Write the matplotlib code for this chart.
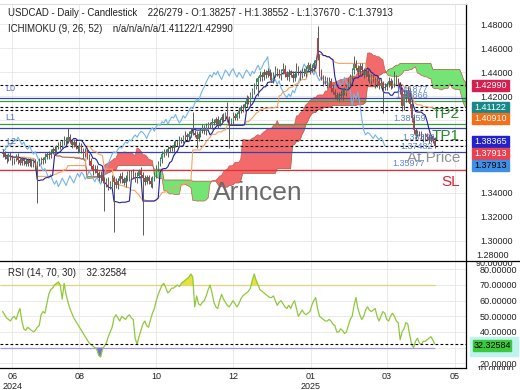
import numpy as np
import pandas as pd
import matplotlib
matplotlib.use("Agg")
import matplotlib.pyplot as plt
from matplotlib.lines import Line2D
from matplotlib.patches import Rectangle
from matplotlib.transforms import Bbox

plt.rcParams['font.family'] = ['Liberation Sans', 'DejaVu Sans']

# ---------------- data (prices in 0.001 units above 1.000) ----------------
closes_k = [
    372, 370, 368, 371, 369, 366, 368, 370, 367, 365, 368, 366, 364, 367, 365, 363, 366, 362,
    364, 366, 368, 367, 370, 372, 371, 374, 376, 375, 378, 380, 379, 382, 384, 383, 386,
    383, 380, 382, 378, 376, 379, 375, 372, 374, 370, 366, 362, 358, 360,
    356, 352, 355, 350, 347, 350, 345, 348, 352, 349, 346, 350, 354, 351, 348, 352, 356, 353,
    357, 355, 351, 354, 358, 355, 352, 349, 353, 350, 347, 352,
    355, 360, 364, 368, 372, 374, 373, 376, 378, 377, 380, 382, 381, 384, 383, 386, 388, 386,
    389, 391, 390,
    388, 385, 389, 392, 394, 391, 395, 397, 396, 399, 398, 401, 397, 400, 403, 402, 405, 401,
    398, 400, 404, 402,
    405, 408, 411, 410, 414, 418, 416, 421, 425, 428,
    432, 435, 438, 436, 440, 438, 441, 437, 434, 438, 442, 440, 437, 441, 443, 439, 436, 440,
    438, 435, 439, 442, 440, 437, 441,
    439, 443, 446, 442, 444, 448, 450, 453, 440, 436, 432, 434,
    430, 433, 427, 424, 421, 419, 422, 420, 425, 423, 428, 432, 436, 442, 447, 444, 440, 445,
    442, 438, 441, 436, 433, 437, 434, 430, 433, 429, 431, 427,
    428, 430, 433, 429, 431, 436, 432, 428, 425,
    412, 422, 418, 424, 414, 402, 392, 388, 390,
    389, 387, 385, 388, 386, 384, 386, 383, 379]
wick_up_k = [
    2, 3, 2, 2, 3, 2, 1, 2, 3, 2, 2, 1, 3, 2, 2, 3, 2, 2,
    2, 3, 2, 2, 3, 2, 3, 2, 2, 3, 2, 2, 3, 2, 3, 2, 8,
    3, 2, 3, 2, 2, 3, 2, 2, 3, 2, 2, 3, 2, 3,
    3, 2, 3, 2, 3, 2, 3, 2, 3, 2, 3, 2, 2, 3, 2, 3, 2, 3, 2, 3, 2, 3, 2, 3, 2, 3, 2, 2, 3, 2,
    2, 3, 2, 2, 3, 2, 2, 3, 2, 2, 3, 2, 2, 3, 2, 2, 3, 2, 2, 3, 16,
    2, 3, 2, 2, 3, 2, 3, 2, 2, 3, 2, 2, 3, 2, 2, 3, 2, 10, 3, 2, 3, 2,
    2, 3, 2, 3, 2, 3, 2, 3, 2, 3,
    3, 2, 3, 2, 3, 2, 3, 2, 3, 2, 3, 2, 3, 2, 5, 3, 2, 3, 2, 3, 2, 6, 3, 2, 3,
    3, 2, 3, 2, 3, 2, 3, 10, 2, 3, 2, 3,
    2, 3, 2, 3, 2, 3, 2, 3, 2, 3, 2, 3, 3, 2, 7, 3, 2, 3,
    3, 2, 3, 2, 3, 2, 3, 2, 3, 2, 3, 2,
    3, 2, 3, 2, 3, 5, 2, 3, 2,
    3, 4, 3, 5, 3, 3, 3, 2, 2,
    1, 2, 2, 2, 2, 3, 2, 2, 3]
wick_dn_k = [
    2, 2, 3, 2, 2, 3, 2, 2, 3, 2, 2, 3, 2, 2, 3, 2, 2, 3,
    31, 2, 2, 3, 2, 2, 3, 2, 2, 3, 2, 2, 3, 2, 2, 3, 2,
    2, 3, 2, 2, 3, 2, 2, 3, 2, 2, 3, 2, 3, 2,
    3, 2, 3, 2, 22, 2, 3, 2, 3, 42, 2, 3, 2, 3, 2, 3, 2, 3, 2, 3, 2, 3, 2, 3, 47, 3, 2, 3, 2, 3,
    2, 3, 2, 2, 3, 2, 2, 3, 2, 2, 3, 2, 2, 3, 2, 2, 3, 2, 2, 3, 2,
    2, 8, 2, 3, 2, 2, 3, 2, 2, 3, 2, 2, 3, 2, 2, 3, 2, 2, 21, 2, 3, 2,
    2, 3, 2, 3, 2, 3, 2, 3, 2, 3,
    2, 12, 2, 3, 2, 3, 2, 3, 2, 3, 2, 3, 2, 3, 2, 3, 2, 3, 2, 3, 2, 3, 2, 3, 2,
    2, 3, 2, 3, 2, 3, 2, 3, 3, 2, 3, 2,
    3, 2, 3, 2, 3, 2, 3, 2, 3, 2, 3, 2, 3, 2, 3, 2, 3, 2,
    2, 3, 2, 3, 2, 3, 2, 3, 2, 3, 2, 21,
    2, 3, 2, 3, 2, 3, 2, 3, 3,
    4, 3, 3, 3, 4, 3, 3, 3, 2,
    2, 2, 3, 2, 2, 3, 2, 2, 2]
first_open_k = 374
open_gaps_k = {164: 469}

rsi_values = [
    53, 51, 49, 48, 47, 49, 50, 48, 52, 55, 47, 42, 41, 43, 42, 41, 40, 41, 43, 44,
    51, 53, 52, 58, 64, 67, 68, 70, 71, 72, 70, 61, 71, 64, 59, 55, 52, 49, 47, 45,
    43, 41, 39, 37, 35, 33, 32, 31, 30, 29, 25, 24, 29, 31, 33, 37, 40, 43, 49, 51,
    49, 47, 50, 49, 48, 50, 51, 49, 48, 36, 32, 37, 41, 45, 47, 44, 43, 48, 52, 55,
    60, 64, 67, 70, 71, 68, 65, 66, 68, 68, 69, 70, 69, 71, 72, 73, 74, 75, 77, 75,
    56, 63, 58, 57, 59, 60, 63, 67, 70, 65, 59, 56, 55, 60, 64, 61, 59, 57, 56, 58,
    60, 58, 56, 58, 61, 63, 64, 65, 66, 68, 73, 77, 73, 70, 67, 66, 65, 64, 63, 62,
    62, 63, 60, 57, 59, 60, 58, 56, 55, 57, 55, 58, 60, 55, 50, 52, 54, 52, 51, 52,
    53, 57, 60, 62, 55, 50, 49, 48, 47, 47, 48, 47, 45, 44, 40, 40, 42, 41, 39, 40,
    44, 48, 50, 57, 62, 55, 51, 48, 50, 54, 56, 54, 53, 54, 55, 50, 47, 50, 53, 52,
    48, 47, 50, 52, 50, 47, 46, 35, 40, 42, 46, 45, 38, 32, 30, 34, 36, 33, 32, 34,
    34, 35, 36, 37, 35, 32.3]
rsi_last = 32.32584

level_blue = [1.4184, 1.3941, 1.3740]
level_green = [1.4162, 1.3971]
level_sl = 1.3585
level_dashed = [1.42990, 1.41122, 1.40910, 1.38365, 1.37913]

# tick labels hidden behind value tags in the reference are left blank
price_ticks = [1.30, 1.32, 1.34, 1.36, 1.38, 1.40, 1.42, 1.44, 1.46, 1.48]
price_tick_labels = ['1.30000', '1.32000', '1.34000', '', '', '', '1.42000', '1.44000', '1.46000', '1.48000']
rsi_ticks = [20, 30, 40, 50, 60, 70, 80]
rsi_tick_labels = ['20.00000', '', '40.00000', '50.00000', '60.00000', '70.00000', '80.00000']
x_tick_pos = [5, 40, 80, 120, 160.5, 200, 235.5]
x_tick_labels = ['06\n2024', '08', '10', '12', '01\n2025', '03', '05']

# ---------------- derived series ----------------
close = 1 + np.array(closes_k) / 1000.0
opens_k = [first_open_k] + closes_k[:-1]
for k, v in open_gaps_k.items():
    opens_k[k] = v
opn = 1 + np.array(opens_k) / 1000.0
high = np.maximum(opn, close) + np.array(wick_up_k) / 1000.0
low = np.minimum(opn, close) - np.array(wick_dn_k) / 1000.0
n = len(close)
x = np.arange(n)


def midline(period):
    hh = pd.Series(high).rolling(period, min_periods=1).max()
    ll = pd.Series(low).rolling(period, min_periods=1).min()
    return ((hh + ll) / 2).values


tenkan = midline(9)
kijun = midline(26)
span_a = (tenkan + kijun) / 2
span_b = midline(52)
xs = x + 26
rsi = np.array(rsi_values, dtype=float)

# ---------------- figure ----------------
W, H = 520, 390
fig = plt.figure(figsize=(5.2, 3.9), dpi=100)
ax = fig.add_axes([0, 129 / H, 466 / W, 257 / H])
ax2 = fig.add_axes([0, 22 / H, 466 / W, 107 / H])

XL = (-1.4, 241.3)
for a in (ax, ax2):
    a.set_xlim(*XL)
    a.set_xticks(x_tick_pos)
    a.grid(True, color='#e6e6e6', lw=0.6)
    a.set_axisbelow(True)
    a.yaxis.tick_right()
    a.tick_params(axis='y', length=0, pad=10, labelsize=6.5, colors='#222222')
    a.tick_params(axis='x', length=0, labelsize=6.5, pad=3, colors='#222222')
    for s in ('left', 'top', 'bottom'):
        a.spines[s].set_visible(False)
    a.spines['right'].set_color('black')
    a.spines['right'].set_linewidth(0.9)
ax.spines['top'].set_visible(True)
ax.spines['top'].set_color('#dddddd')
ax2.spines['bottom'].set_visible(True)
ax2.spines['bottom'].set_color('black')
ax2.spines['bottom'].set_linewidth(0.9)
ax.set_xticklabels([])
ax2.set_xticklabels(x_tick_labels, linespacing=1.1)

ax.set_ylim(1.2831, 1.4969)
ax.set_yticks(price_ticks)
ax.set_yticklabels(price_tick_labels)

# cloud
ax.fill_between(xs, span_a, span_b, where=span_a >= span_b, interpolate=True,
                color='#f36a6a', lw=0, zorder=1.5)
ax.fill_between(xs, span_a, span_b, where=span_b > span_a, interpolate=True,
                color='#74e474', lw=0, zorder=1.5)
ax.plot(xs, span_a, color='#c85a50', lw=0.5, zorder=1.6)
ax.plot(xs, span_b, color='#a8583a', lw=0.5, zorder=1.6)

# level lines
for v in level_blue:
    ax.axhline(v, color='#3445a8', lw=0.9, zorder=2)
for v in level_green:
    ax.axhline(v, color='#3c9a3c', lw=0.9, zorder=2)
ax.axhline(level_sl, color='#e0303a', lw=0.9, zorder=2)
for v in level_dashed:
    ax.axhline(v, color='black', lw=0.8, ls=(0, (2.5, 2.0)), zorder=2.1)

# ichimoku lines
ax.plot(x[:-26], close[26:], color='#74b4e6', lw=0.8, zorder=3)
ax.plot(x, kijun, color='#f4a462', lw=0.8, zorder=3)
ax.plot(x, tenkan, color='#2020a0', lw=0.8, zorder=3.1)

# candles
up = close >= opn
ax.vlines(x, low, high, color='#5a5a5a', lw=0.7, zorder=4)
body = np.where(np.abs(close - opn) < 0.0004, 0.0004, close - opn)
ax.bar(x, body, bottom=opn, width=0.6,
       color=np.where(up, '#2f9e66', '#d23a3a'), lw=0, zorder=5)

# RSI panel
ax2.set_ylim(17.0, 85.3)
ax2.set_yticks(rsi_ticks)
ax2.set_yticklabels(rsi_tick_labels)
ax2.hlines(70, XL[0], n - 1, color='#e2d27c', lw=0.9, zorder=2)
ax2.hlines(30, XL[0], n - 1, color='#a198ea', lw=0.9, zorder=2)
ax2.fill_between(x, rsi, 70, where=rsi >= 70, interpolate=True, color='#e6e23c', lw=0, zorder=2.5)
ax2.fill_between(x, rsi, 30, where=rsi <= 30, interpolate=True, color='#7a6fe0', lw=0, zorder=2.5)
ax2.plot(x, rsi, color='#90c83c', lw=0.9, zorder=3)
ax2.axhline(rsi_last, color='black', lw=0.8, ls=(0, (2.5, 2.0)), zorder=3.5)


# ---------------- annotations (pixel positions) ----------------
def ftxt(xp, yp, s, **kw):
    return fig.text(xp / W, 1 - yp / H, s, **kw)


def tag(yp, s, bg, fg, x0=472, w=37, h=11):
    fig.add_artist(Rectangle((x0 / W, 1 - (yp + h / 2) / H), w / W, h / H,
                             transform=fig.transFigure, color=bg, zorder=5))
    ftxt(x0 + w / 2, yp, s, ha='center', va='center', size=6.5, color=fg, zorder=6)


ftxt(8, 12.5, 'USDCAD - Daily - Candlestick    226/279 - O:1.38257 - H:1.38552 - L:1.37670 - C:1.37913',
     size=6.9, va='center', color='#222222')
ftxt(8, 29.5, 'ICHIMOKU (9, 26, 52)    n/a/n/a/n/a/1.41122/1.42990', size=6.9, va='center', color='#222222')
ftxt(8, 273.5, 'RSI (14, 70, 30)    32.32584', size=6.9, va='center', color='#222222')

for s, xp, yp in [('L0', 5, 88.5), ('L1', 5, 117.5), ('L2', 6, 141.5)]:
    ftxt(xp, yp, s, size=6.5, va='center', color='#5070c8')
for s, xp, yp in [('1.41877', 395, 89.5), ('1.40866', 395, 95), ('1.38759', 393, 118.5),
                  ('1.38365', 402, 137), ('1.37482', 400, 146.5), ('1.35977', 392, 163)]:
    ftxt(xp, yp, s, size=6.5, va='center', color='#5c84dc')

ftxt(460, 114, 'TP2', size=11, ha='right', va='center', color='#2f8a2f')
ftxt(460, 136, 'TP1', size=11, ha='right', va='center', color='#2f8a2f')
ftxt(460, 157.5, 'At Price', size=11, ha='right', va='center', color='#909090')
ftxt(460, 182.5, 'SL', size=11, ha='right', va='center', color='#dd2233')
ftxt(213, 193, 'Arincen', size=19, ha='left', va='center', color='#6a6a6a')

tag(85, '1.42990', '#d41f4f', 'white')
tag(107.3, '1.41122', '#17898a', 'white')
tag(118.3, '1.40910', '#f0701c', 'white')
tag(141.7, '1.38365', '#2222c8', 'white')
tag(153.3, '1.37913', '#e8414f', 'white')
tag(165, '1.37913', '#3e8fe6', 'black')

# clamped edge labels
ftxt(476, 256, '1.28000', size=6.5, va='center', color='#222222')
t90 = ftxt(476, 263.5, '90.00000', size=6.5, va='center', color='#222222')
t90.set_clip_box(Bbox.from_extents(0, 0, W, H - 261))
t10 = ftxt(476, 369, '10.00000', size=6.5, va='center', color='#222222')
t10.set_clip_box(Bbox.from_extents(0, H - 370, W, H))

fig.add_artist(Rectangle((470 / W, 1 - 356 / H), 48 / W, 19 / H, transform=fig.transFigure,
                         color='#bff3ef', zorder=4))
tag(345.5, '32.32584', '#3cc83c', 'black', x0=473, w=38, h=11)

fig.add_artist(Line2D([0, 1], [1 - 261 / H] * 2, transform=fig.transFigure, color='black', lw=0.9))

fig.savefig('out.png', dpi=100)
